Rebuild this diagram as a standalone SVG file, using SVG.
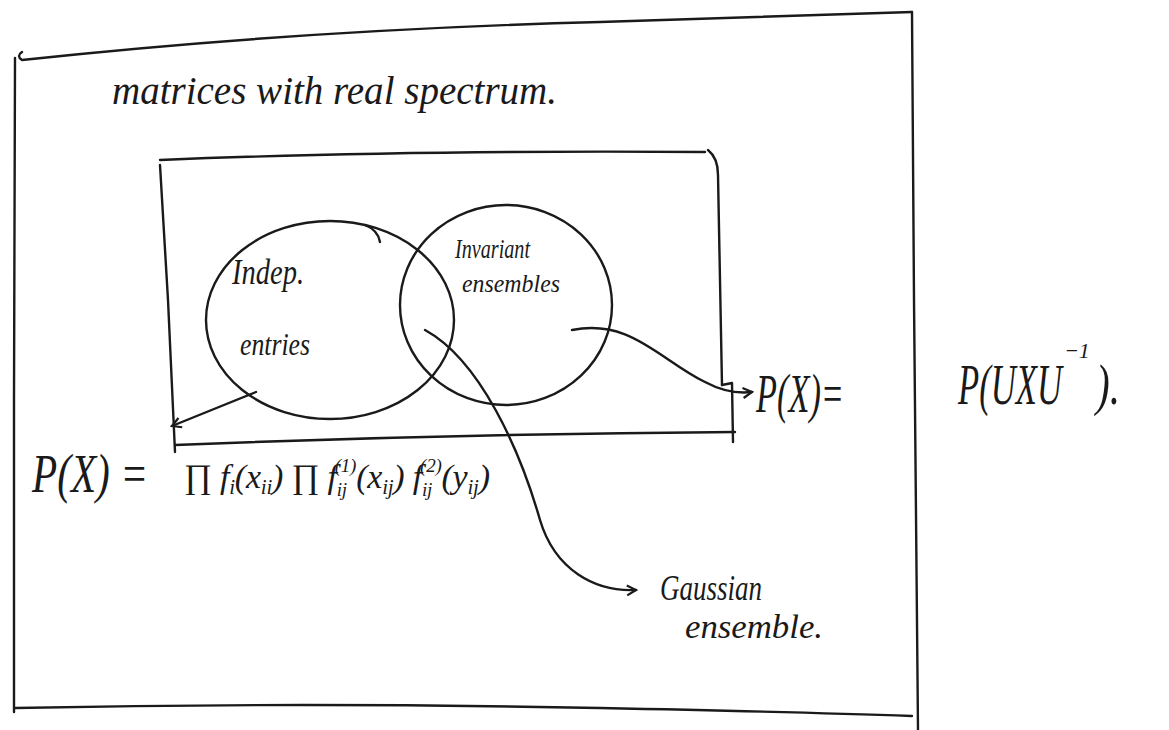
<svg xmlns="http://www.w3.org/2000/svg" width="1169" height="730" viewBox="0 0 1169 730">
<style>
.s{fill:none;stroke:#1a1a1a;stroke-width:2.4;stroke-linecap:round;stroke-linejoin:round}
.t{font-family:"Liberation Serif","DejaVu Serif",serif;font-style:italic;fill:#1a1a1a}
</style>
<defs>
<marker id="ah" markerWidth="14" markerHeight="14" refX="10" refY="6" orient="auto" markerUnits="userSpaceOnUse">
<path d="M1,1 L10,6 L1,11" fill="none" stroke="#1a1a1a" stroke-width="2.2"/>
</marker>
</defs>
<rect width="1169" height="730" fill="#fff"/>
<g id="outer-box">
<path class="s" d="M22,52 Q16,56 22,60 Q300,30 600,22 Q800,16 912,12"/>
<path class="s" d="M15,58 L14,400 L14,712"/>
<path class="s" d="M912,12 L914,300 L918,730"/>
<path class="s" d="M15,708 Q300,702 600,708 Q800,712 912,716"/>
<text class="t" x="112" y="104" font-size="40" textLength="445" lengthAdjust="spacingAndGlyphs">matrices with real spectrum.</text>
</g>
<g id="inner-box">
<path class="s" d="M160,160 Q400,150 705,152"/>
<path class="s" d="M708,150 Q718,158 718,175 L722,385"/>
<path class="s" d="M722,385 L732,383 L733,442"/>
<path class="s" d="M160,165 L168,300 L175,452"/>
<path class="s" d="M175,445 Q450,434 735,432"/>
</g>
<g id="indep-entries">
<ellipse class="s" cx="330" cy="320" rx="124" ry="99"/>
<path class="s" d="M365,225 Q378,230 380,242"/>
<text class="t" x="232" y="284" font-size="36" textLength="72" lengthAdjust="spacingAndGlyphs">Indep.</text>
<text class="t" x="240" y="355" font-size="32" textLength="70" lengthAdjust="spacingAndGlyphs">entries</text>
</g>
<g id="invariant-ensembles">
<ellipse class="s" cx="506" cy="305" rx="106" ry="100"/>
<text class="t" x="455" y="258" font-size="28" textLength="75" lengthAdjust="spacingAndGlyphs">Invariant</text>
<text class="t" x="462" y="292" font-size="26" textLength="98" lengthAdjust="spacingAndGlyphs">ensembles</text>
</g>
<g id="connectors">
<path class="s" d="M256,392 L172,426" marker-end="url(#ah)"/>
<path class="s" d="M572,330 C630,318 660,360 705,382 C720,390 735,394 752,392" marker-end="url(#ah)"/>
<path class="s" d="M425,330 C480,360 520,450 540,520 C555,570 595,592 636,590" marker-end="url(#ah)"/>
</g>
<g id="left-formula">
<text class="t" x="32" y="492" font-size="54" textLength="116" lengthAdjust="spacingAndGlyphs">P(X) =</text>
<text class="t" x="184" y="488" font-size="34" textLength="306" lengthAdjust="spacing">∏ f<tspan font-size="21" dy="6">i</tspan><tspan dy="-6">(x</tspan><tspan font-size="21" dy="6">ii</tspan><tspan dy="-6">) ∏ f</tspan><tspan font-size="19" dy="8">ij</tspan><tspan font-size="19" dx="-12" dy="-24">(1)</tspan><tspan dy="16">(x</tspan><tspan font-size="21" dy="6">ij</tspan><tspan dy="-6">) f</tspan><tspan font-size="19" dy="8">ij</tspan><tspan font-size="19" dx="-12" dy="-24">(2)</tspan><tspan dy="16">(y</tspan><tspan font-size="21" dy="6">ij</tspan><tspan dy="-6">)</tspan></text>
</g>
<g id="right-formula">
<text class="t" x="958" y="404" font-size="58" textLength="104" lengthAdjust="spacingAndGlyphs">P(UXU</text>
<text class="t" x="1064" y="358" font-size="22">−1</text>
<text class="t" x="1096" y="404" font-size="58" textLength="24" lengthAdjust="spacingAndGlyphs">).</text>
<text class="t" x="756" y="412" font-size="54" textLength="88" lengthAdjust="spacingAndGlyphs">P(X)=</text>
</g>
<g id="gaussian">
<text class="t" x="660" y="600" font-size="36" textLength="102" lengthAdjust="spacingAndGlyphs">Gaussian</text>
<text class="t" x="685" y="638" font-size="34" textLength="138" lengthAdjust="spacingAndGlyphs">ensemble.</text>
</g>
</svg>
